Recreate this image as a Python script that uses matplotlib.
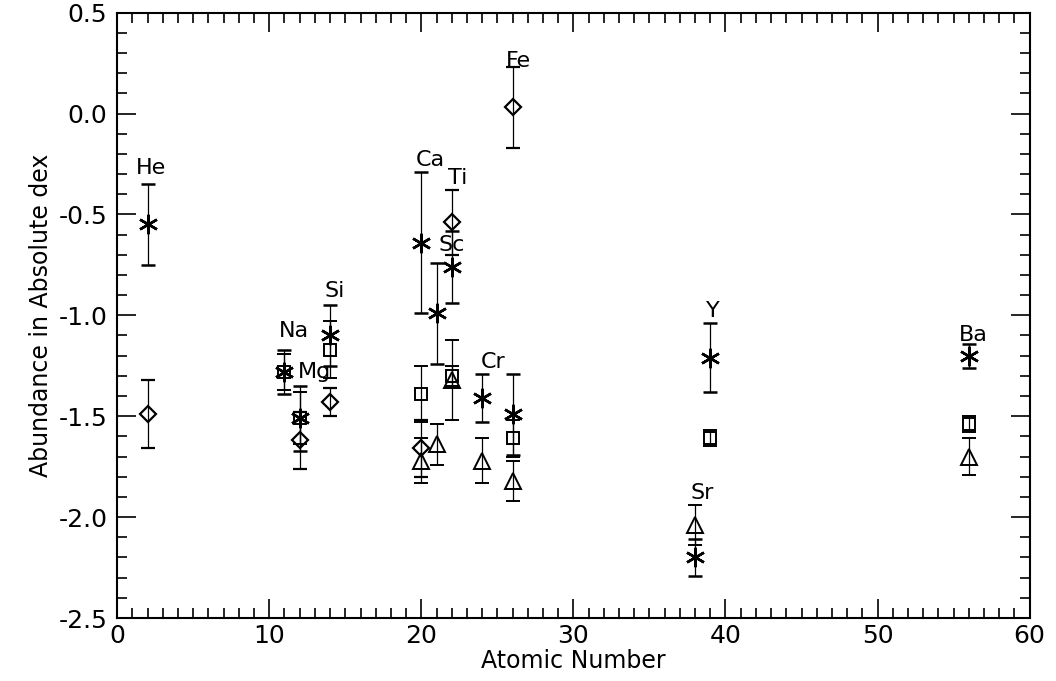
import matplotlib
matplotlib.use("Agg")
import matplotlib.pyplot as plt
from matplotlib.ticker import MultipleLocator

plt.rcParams['font.family'] = ['DejaVu Sans']

# abundances per ion set, read as (atomic number, dex, error)
star_z = [2, 11, 12, 14, 20, 21, 22, 24, 26, 38, 39, 56]
star_val = [-0.55, -1.28, -1.51, -1.10, -0.64, -0.99, -0.76, -1.41, -1.49, -2.20, -1.21, -1.20]
star_err = [0.20, 0.11, 0.16, 0.15, 0.35, 0.25, 0.18, 0.12, 0.20, 0.09, 0.17, 0.06]

diam_z = [2, 12, 14, 20, 22, 26]
diam_val = [-1.49, -1.62, -1.43, -1.66, -0.54, 0.03]
diam_err = [0.17, 0.14, 0.07, 0.14, 0.16, 0.20]

sq_z = [11, 12, 14, 20, 22, 26, 39, 56]
sq_val = [-1.28, -1.51, -1.17, -1.39, -1.30, -1.61, -1.61, -1.54]
sq_err = [0.09, 0.13, 0.14, 0.14, 0.05, 0.09, 0.04, 0.04]

tri_z = [20, 21, 22, 24, 26, 38, 56]
tri_val = [-1.72, -1.64, -1.32, -1.72, -1.82, -2.04, -1.70]
tri_err = [0.11, 0.10, 0.20, 0.11, 0.10, 0.10, 0.09]

# element names and where they sit
elem_names = ["He", "Na", "Mg", "Si", "Ca", "Sc", "Ti", "Cr", "Fe", "Y", "Sr", "Ba"]
elem_x = [2.2, 11.6, 13.0, 14.3, 20.6, 22.0, 22.4, 24.7, 26.4, 39.2, 38.5, 56.3]
elem_y = [-0.27, -1.08, -1.28, -0.88, -0.23, -0.65, -0.32, -1.23, 0.26, -0.98, -1.88, -1.10]

fig = plt.figure(figsize=(10.56, 6.81), dpi=100)
ax = fig.add_axes([0.111, 0.0925, 0.864, 0.889])

common = dict(ls='none', color='black', ecolor='black', elinewidth=0.9,
              capsize=5, capthick=0.9, mfc='none', mec='black')
ax.errorbar(star_z, star_val, yerr=star_err, marker=(6, 2, 0), ms=14, mew=1.8, **common)
ax.errorbar(diam_z, diam_val, yerr=diam_err, marker='D', ms=8.5, mew=1.6, **common)
ax.errorbar(sq_z, sq_val, yerr=sq_err, marker='s', ms=9, mew=1.4, **common)
ax.errorbar(tri_z, tri_val, yerr=tri_err, marker='^', ms=11, mew=1.4, **common)

for name, x, y in zip(elem_names, elem_x, elem_y):
    ax.text(x, y, name, ha='center', va='center', fontsize=16)

ax.set_xlim(0, 60)
ax.set_ylim(-2.5, 0.5)
ax.xaxis.set_major_locator(MultipleLocator(10))
ax.xaxis.set_minor_locator(MultipleLocator(1))
ax.yaxis.set_major_locator(MultipleLocator(0.5))
ax.yaxis.set_minor_locator(MultipleLocator(0.1))
ax.yaxis.set_major_formatter(plt.FormatStrFormatter('%.1f'))
ax.tick_params(which='both', direction='in', top=True, right=True, width=1.2)
ax.tick_params(which='major', length=14, labelsize=18, pad=7)
ax.tick_params(axis='x', which='major', pad=4)
ax.tick_params(which='minor', length=7)
for s in ax.spines.values():
    s.set_linewidth(1.5)

ax.set_xlabel("Atomic Number", fontsize=17, labelpad=1)
ax.set_ylabel("Abundance in Absolute dex", fontsize=17, labelpad=4)

fig.savefig("out.png", dpi=100)
